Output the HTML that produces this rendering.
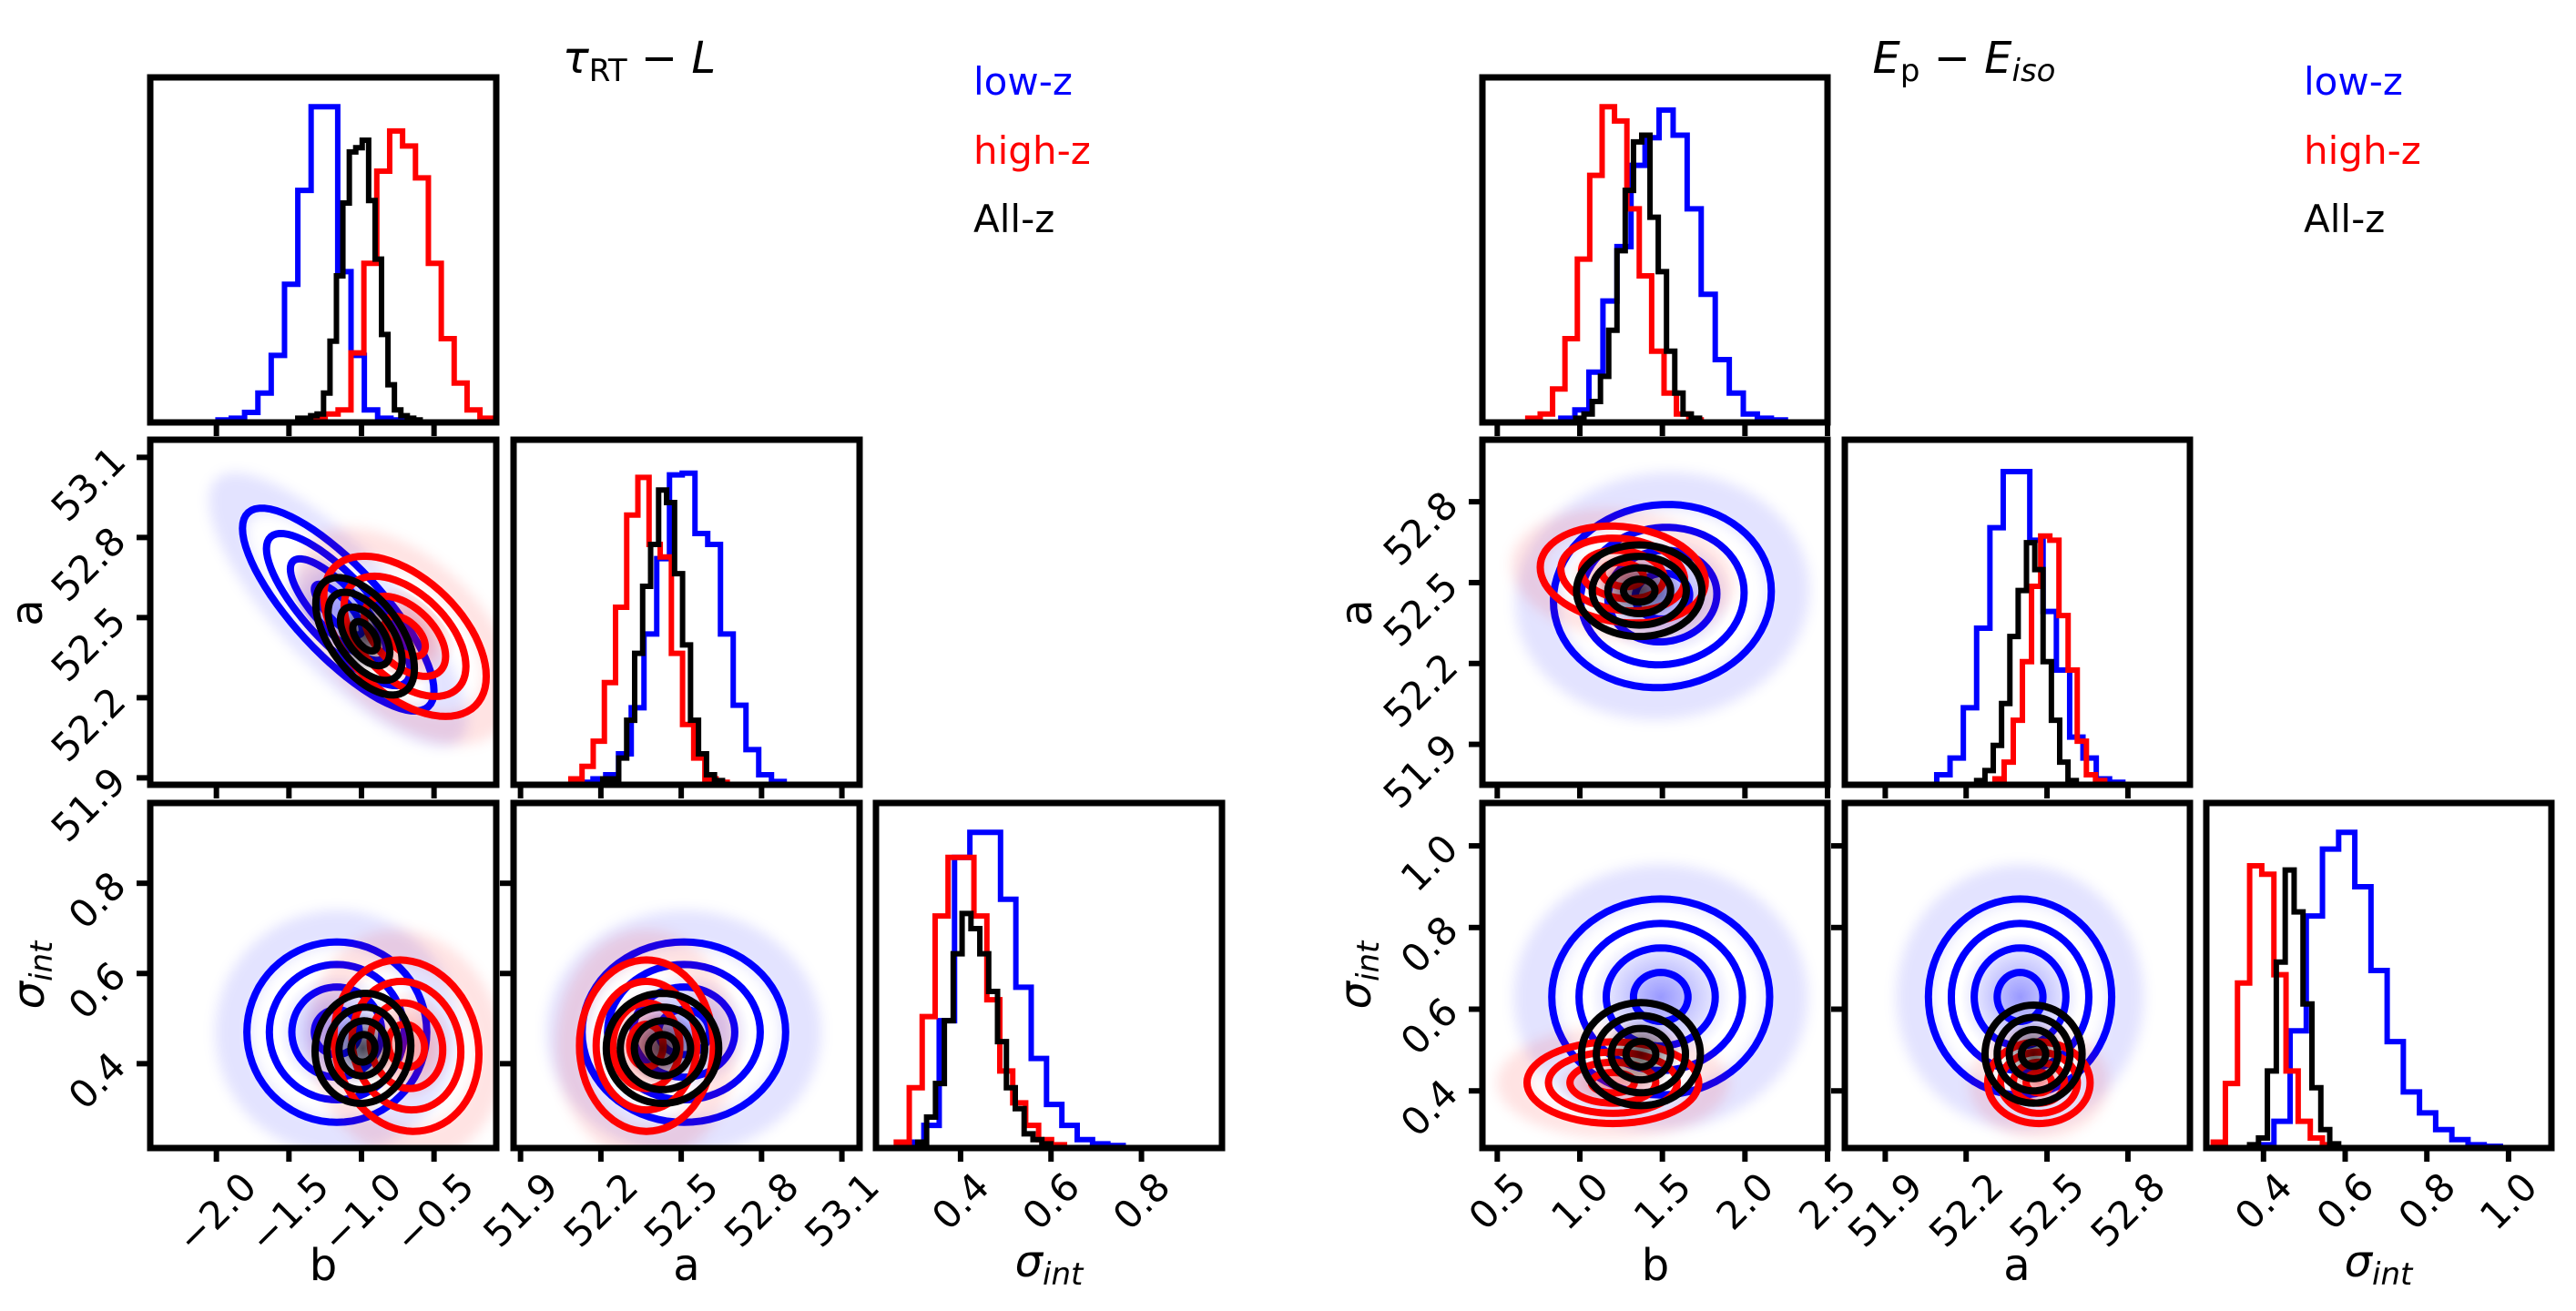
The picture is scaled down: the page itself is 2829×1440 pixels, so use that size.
<!DOCTYPE html>
<html><head><meta charset="utf-8"><title>Corner plots</title>
<style>
html,body{margin:0;padding:0;background:#fff;}
svg{display:block;font-family:"DejaVu Sans","Liberation Sans",sans-serif;}
.tlab{font-size:42px;}
.tick{stroke:#000;stroke-width:6px;}
.frm{fill:none;stroke:#000;stroke-width:7px;}
.hst{fill:none;stroke-width:6px;}
.ctr{fill:none;stroke-width:8px;stroke-linejoin:round;}
.cld{fill-rule:evenodd;}
.axl{font-size:48px;}
</style></head>
<body>
<svg id="fig" xmlns="http://www.w3.org/2000/svg" width="2829" height="1440" viewBox="0 0 2829 1440">
<defs>
<filter id="blur" x="-50%" y="-50%" width="200%" height="200%"><feGaussianBlur stdDeviation="7"/></filter>
<radialGradient id="gBlue"><stop offset="0" stop-color="#0000ff" stop-opacity="0.4"/><stop offset="1" stop-color="#0000ff" stop-opacity="0"/></radialGradient>
<radialGradient id="gRed"><stop offset="0" stop-color="#ff0000" stop-opacity="0.4"/><stop offset="1" stop-color="#ff0000" stop-opacity="0"/></radialGradient>
<radialGradient id="gBlack"><stop offset="0" stop-color="#000" stop-opacity="0.65"/><stop offset="1" stop-color="#000" stop-opacity="0"/></radialGradient>
</defs>
<g id="root"></g>

<text x="702" y="80" text-anchor="middle" style="font-size:48px"><tspan font-style="italic">τ</tspan><tspan style="font-size:34px" dy="9">RT</tspan><tspan dy="-9"> − </tspan><tspan font-style="italic">L</tspan></text>
<text x="2157" y="80" text-anchor="middle" style="font-size:48px"><tspan font-style="italic">E</tspan><tspan style="font-size:34px" dy="9">p</tspan><tspan dy="-9"> − </tspan><tspan font-style="italic">E</tspan><tspan style="font-size:34px" dy="9" font-style="italic">iso</tspan></text>

<text x="1069" y="104" style="font-size:42px" fill="#0000ff">low-z</text>
<text x="1069" y="180" style="font-size:42px" fill="#ff0000">high-z</text>
<text x="1069" y="255" style="font-size:42px" fill="#000">All-z</text>
<text x="2530" y="104" style="font-size:42px" fill="#0000ff">low-z</text>
<text x="2530" y="180" style="font-size:42px" fill="#ff0000">high-z</text>
<text x="2530" y="255" style="font-size:42px" fill="#000">All-z</text>

<text class="axl" x="355" y="1406" text-anchor="middle">b</text>
<text class="axl" x="754" y="1406" text-anchor="middle">a</text>
<text class="axl" x="1152" y="1402" text-anchor="middle"><tspan font-style="italic">σ</tspan><tspan font-style="italic" style="font-size:34px" dy="9">int</tspan></text>
<text class="axl" x="1818" y="1406" text-anchor="middle">b</text>
<text class="axl" x="2215" y="1406" text-anchor="middle">a</text>
<text class="axl" x="2612" y="1402" text-anchor="middle"><tspan font-style="italic">σ</tspan><tspan font-style="italic" style="font-size:34px" dy="9">int</tspan></text>

<text class="axl" transform="translate(46,673) rotate(-90)" text-anchor="middle">a</text>
<text class="axl" transform="translate(48,1071) rotate(-90)" text-anchor="middle"><tspan font-style="italic">σ</tspan><tspan font-style="italic" style="font-size:34px" dy="9">int</tspan></text>
<text class="axl" transform="translate(1506,673) rotate(-90)" text-anchor="middle">a</text>
<text class="axl" transform="translate(1505,1071) rotate(-90)" text-anchor="middle"><tspan font-style="italic">σ</tspan><tspan font-style="italic" style="font-size:34px" dy="9">int</tspan></text>
</svg>

<script>
// ---------- data: series order [low-z (blue), high-z (red), All-z (black)] ----------
const seriesNames = ["low-z", "high-z", "all-z"];
const seriesColors = ["#0000ff", "#ff0000", "#000000"];

// Left group (tau_RT - L) 1D histograms
const L_b_start = [-1.989, -1.339, -1.439];
const L_b_width = [0.0917, 0.0889, 0.0444];
const L_b_blue = [3,5,12,35,80,165,277,377,377,180,80,15,5,3];
const L_b_red = [5,10,15,83,190,300,348,330,292,190,100,47,15,5];
const L_b_black = [5,5,8,10,35,97,175,262,323,328,337,265,195,105,45,15,8,5,3];

const L_a_start = [52.123, 52.088, 52.207];
const L_a_width = [0.0476, 0.0417, 0.0298];
const L_a_blue = [3,7,12,37,92,180,270,370,372,300,287,180,95,42,12,4];
const L_a_red = [7,22,52,122,212,322,367,287,272,157,72,32,7,3];
const L_a_black = [7,7,32,77,157,237,287,352,337,252,167,77,37,12,5];

const L_s_start = [0.285, 0.258, 0.3054];
const L_s_width = [0.0339, 0.0286, 0.0196];
const L_s_blue = [7,27,152,347,377,377,297,192,107,52,27,10,5,3];
const L_s_red = [7,72,157,277,347,347,277,177,92,54,27,10,4];
const L_s_black = [7,37,77,152,232,280,262,232,187,127,72,47,17,10,5];

// Right group (Ep - Eiso) 1D histograms
const R_b_start = [0.885, 0.685, 0.975];
const R_b_width = [0.085, 0.075, 0.05];
const R_b_blue = [5,15,60,145,210,307,340,373,343,255,153,75,35,10,5,3];
const R_b_red = [5,10,40,100,195,295,377,360,255,175,85,35,10,3];
const R_b_black = [5,10,25,55,110,205,277,335,343,245,180,85,35,10,5];

const R_a_start = [52.091, 52.307, 52.239];
const R_a_width = [0.0493, 0.0339, 0.0308];
const R_a_blue = [12,32,92,187,307,374,374,292,207,137,57,32,7,3];
const R_a_red = [7,27,77,147,237,297,292,202,137,52,12,5];
const R_a_black = [5,17,47,97,177,232,289,257,147,77,27,5];

const R_s_start = [0.386, 0.277, 0.366];
const R_s_width = [0.0396, 0.0297, 0.0218];
const R_s_blue = [4,32,140,277,357,377,312,212,127,67,42,22,10,4,2];
const R_s_red = [7,77,197,337,327,207,92,32,12,4];
const R_s_black = [4,12,92,222,332,282,172,72,22,5];

// 2D posteriors: Gaussian summaries per series
const L_ba_cx = [-1.16, -0.70, -0.975];
const L_ba_cy = [52.53, 52.43, 52.43];
const L_ba_sx = [0.33, 0.28, 0.17];
const L_ba_sy = [0.19, 0.15, 0.11];
const L_ba_rho = [-0.8, -0.5, -0.55];

const L_bs_cx = [-1.17, -0.69, -0.99];
const L_bs_cy = [0.47, 0.44, 0.434];
const L_bs_sx = [0.31, 0.25, 0.165];
const L_bs_sy = [0.10, 0.095, 0.061];
const L_bs_rho = [0, -0.1, 0.05];

const L_as_cx = [52.51, 52.37, 52.43];
const L_as_cy = [0.47, 0.44, 0.434];
const L_as_sx = [0.19, 0.125, 0.105];
const L_as_sy = [0.10, 0.095, 0.061];
const L_as_rho = [0, 0, 0];

const R_ba_cx = [1.50, 1.26, 1.36];
const R_ba_cy = [52.45, 52.53, 52.47];
const R_ba_sx = [0.33, 0.25, 0.19];
const R_ba_sy = [0.17, 0.09, 0.085];
const R_ba_rho = [0.05, -0.15, 0];

const R_bs_cx = [1.49, 1.20, 1.37];
const R_bs_cy = [0.63, 0.42, 0.49];
const R_bs_sx = [0.33, 0.26, 0.18];
const R_bs_sy = [0.12, 0.05, 0.063];
const R_bs_rho = [0, 0, 0];

const R_as_cx = [52.40, 52.47, 52.45];
const R_as_cy = [0.63, 0.42, 0.49];
const R_as_sx = [0.17, 0.095, 0.09];
const R_as_sy = [0.12, 0.05, 0.06];
const R_as_rho = [0, 0, 0];

const contourLevels = [0.5, 1, 1.5, 2];

// Ticks
const L_b_ticks = [-2.0, -1.5, -1.0, -0.5];
const L_a_ticks = [51.9, 52.2, 52.5, 52.8, 53.1];
const L_s_ticks = [0.4, 0.6, 0.8];
const R_b_ticks = [0.5, 1.0, 1.5, 2.0, 2.5];
const R_a_ticks = [51.9, 52.2, 52.5, 52.8];
const R_s_ticks = [0.4, 0.6, 0.8, 1.0];

// Axis ranges
const L_b_range = [-2.456, -0.071];
const L_a_range = [51.874, 53.166];
const L_s_range = [0.213, 0.978];
const R_b_range = [0.41, 2.5];
const R_a_range = [51.75, 53.03];
const R_s_range = [0.26, 1.105];
const histMax = 412;

// ---------- drawing ----------
const NS = "http://www.w3.org/2000/svg";
const root = document.getElementById("root");
const FS = 42;
let clipId = 0;
function scale(d0, d1, p0, p1) { return v => p0 + (v - d0) / (d1 - d0) * (p1 - p0); }
function mk(tag, parent) { const e = document.createElementNS(NS, tag); parent.appendChild(e); return e; }
function fmt(v) { return v.toFixed(1).replace("-", "\u2212"); }
function textW(s) {
  let w = 0;
  for (const c of s) w += (c === "." ? 0.318 : c === "\u2212" ? 0.838 : 0.636);
  return w * FS;
}

function makePanel(gx, gy, w, h, name) {
  const g = mk("g", root);
  
  
  const cp = mk("clipPath", g);
  const id = "cp" + (clipId++);
  cp.setAttribute("id", id);
  const r = mk("rect", cp);
  r.setAttribute("x", gx); r.setAttribute("y", gy); r.setAttribute("width", w); r.setAttribute("height", h);
  const content = mk("g", g);
  content.setAttribute("clip-path", "url(#" + id + ")");
  
  
  return { g, content, x: gx, y: gy, w, h };
}
function frame(p) {
  const r = mk("rect", p.g);
  
  
  r.setAttribute("x", p.x); r.setAttribute("y", p.y); r.setAttribute("width", p.w); r.setAttribute("height", p.h);
  r.setAttribute("class", "frm");
}

function drawHist(p, xs, ys, start, width, h, color, name) {
  let d = "M" + xs(start) + "," + ys(0);
  for (let i = 0; i < h.length; i++) {
    const x0 = start + i * width, x1 = x0 + width;
    d += " L" + xs(x0) + "," + ys(h[i]) + " L" + xs(x1) + "," + ys(h[i]);
  }
  d += " L" + xs(start + h.length * width) + "," + ys(0);
  const path = mk("path", p.content);
  
  
  path.setAttribute("d", d);
  path.setAttribute("class", "hst");
  path.setAttribute("stroke", color);
}

function ell(xs, ys, cx, cy, sx, sy, rho, k, rev) {
  const pts = [];
  const q = Math.sqrt(1 - rho * rho);
  for (let i = 0; i < 72; i++) {
    const t = (rev ? -1 : 1) * i / 72 * 2 * Math.PI;
    const x = cx + k * sx * Math.cos(t);
    const y = cy + k * sy * (rho * Math.cos(t) + q * Math.sin(t));
    pts.push(xs(x).toFixed(1) + "," + ys(y).toFixed(1));
  }
  return "M" + pts.join(" L") + " Z";
}

function draw2D(p, xs, ys, CX, CY, SX, SY, RHO, panelName) {
  const grads = ["url(#gBlue)", "url(#gRed)", "url(#gBlack)"];
  for (let i = 0; i < 3; i++) {
    const col = seriesColors[i];
    const cloud = mk("path", p.content);
    
    
    cloud.setAttribute("d", ell(xs, ys, CX[i], CY[i], SX[i], SY[i], RHO[i], 2.7, false) + " " + ell(xs, ys, CX[i], CY[i], SX[i], SY[i], RHO[i], 1.9, true));
    cloud.setAttribute("class", "cld");
    cloud.setAttribute("fill", col);
    cloud.setAttribute("fill-opacity", i === 2 ? "0" : "0.11");
    cloud.setAttribute("filter", "url(#blur)");
    const dens = mk("path", p.content);
    
    
    dens.setAttribute("d", ell(xs, ys, CX[i], CY[i], SX[i], SY[i], RHO[i], 1.3, false));
    dens.setAttribute("fill", grads[i]);
    for (const k of contourLevels) {
      const c = mk("path", p.content);
      
      
      c.setAttribute("d", ell(xs, ys, CX[i], CY[i], SX[i], SY[i], RHO[i], k, false));
      c.setAttribute("class", "ctr");
      c.setAttribute("stroke", col);
    }
  }
}

function xTicks(p, xs, ticks, range, labels, name) {
  const yb = p.y + p.h;
  for (const t of ticks) {
    if (t < range[0] - 1e-9 || t > range[1] + 1e-9) continue;
    const x = xs(t);
    const l = mk("line", p.g);
    
    
    l.setAttribute("x1", x); l.setAttribute("x2", x); l.setAttribute("y1", yb); l.setAttribute("y2", yb + 15);
    l.setAttribute("class", "tick");
    if (labels) {
      const s = fmt(t);
      const w = textW(s), hh = 0.73 * FS;
      const side = (w + hh) * 0.707;
      const cy = yb + 24 + side / 2;
      const tx = mk("text", p.g);
      
      
      tx.setAttribute("class", "tlab");
      tx.setAttribute("text-anchor", "middle");
      tx.setAttribute("dominant-baseline", "central");
      tx.setAttribute("transform", "translate(" + x + "," + cy + ") rotate(-45)");
      tx.textContent = s;
    }
  }
}
function yTicks(p, ys, ticks, range, labels, name) {
  const xl = p.x;
  for (const t of ticks) {
    if (t < range[0] - 1e-9 || t > range[1] + 1e-9) continue;
    const y = ys(t);
    const l = mk("line", p.g);
    
    
    l.setAttribute("x1", xl - 15); l.setAttribute("x2", xl); l.setAttribute("y1", y); l.setAttribute("y2", y);
    l.setAttribute("class", "tick");
    if (labels) {
      const s = fmt(t);
      const w = textW(s), hh = 0.73 * FS;
      const side = (w + hh) * 0.707;
      const cx = xl - 24 - side / 2;
      const cy = y + 0.4 * w - 8;
      const tx = mk("text", p.g);
      
      
      tx.setAttribute("class", "tlab");
      tx.setAttribute("text-anchor", "middle");
      tx.setAttribute("dominant-baseline", "central");
      tx.setAttribute("transform", "translate(" + cx + "," + cy + ") rotate(-45)");
      tx.textContent = s;
    }
  }
}

function buildGroup(G) {
  const cols = G.cols, rows = G.rows, W = G.w, H = G.h;
  const xsB = scale(G.bR[0], G.bR[1], cols[0], cols[0] + W);
  const xsA = scale(G.aR[0], G.aR[1], cols[1], cols[1] + W);
  const xsS = scale(G.sR[0], G.sR[1], cols[2], cols[2] + W);
  const ysA = scale(G.aR[0], G.aR[1], rows[1] + H, rows[1]);
  const ysS = scale(G.sR[0], G.sR[1], rows[2] + H, rows[2]);
  const pre = G.name;

  let p = makePanel(cols[0], rows[0], W, H, pre + "-hist-b");
  let ysH = scale(0, histMax, rows[0] + H, rows[0]);
  for (let i = 0; i < 3; i++) drawHist(p, xsB, ysH, G.bStart[i], G.bWidth[i], G.bH[i], seriesColors[i], pre + "-hist-b-" + seriesNames[i]);
  frame(p); xTicks(p, xsB, G.bT, G.bR, false, pre + "-b-axis");

  p = makePanel(cols[0], rows[1], W, H, pre + "-scatter-b-a");
  draw2D(p, xsB, ysA, G.ba[0], G.ba[1], G.ba[2], G.ba[3], G.ba[4], pre + "-b-a");
  frame(p); xTicks(p, xsB, G.bT, G.bR, false, pre + "-b-axis"); yTicks(p, ysA, G.aT, G.aR, true, pre + "-a-axis");

  p = makePanel(cols[1], rows[1], W, H, pre + "-hist-a");
  ysH = scale(0, histMax, rows[1] + H, rows[1]);
  for (let i = 0; i < 3; i++) drawHist(p, xsA, ysH, G.aStart[i], G.aWidth[i], G.aH[i], seriesColors[i], pre + "-hist-a-" + seriesNames[i]);
  frame(p); xTicks(p, xsA, G.aT, G.aR, false, pre + "-a-axis");

  p = makePanel(cols[0], rows[2], W, H, pre + "-scatter-b-sigma");
  draw2D(p, xsB, ysS, G.bs[0], G.bs[1], G.bs[2], G.bs[3], G.bs[4], pre + "-b-sigma");
  frame(p); xTicks(p, xsB, G.bT, G.bR, true, pre + "-b-axis"); yTicks(p, ysS, G.sT, G.sR, true, pre + "-sigma-axis");

  p = makePanel(cols[1], rows[2], W, H, pre + "-scatter-a-sigma");
  draw2D(p, xsA, ysS, G.as[0], G.as[1], G.as[2], G.as[3], G.as[4], pre + "-a-sigma");
  frame(p); xTicks(p, xsA, G.aT, G.aR, true, pre + "-a-axis"); yTicks(p, ysS, G.sT, G.sR, false, pre + "-sigma-axis");

  p = makePanel(cols[2], rows[2], W, H, pre + "-hist-sigma");
  ysH = scale(0, histMax, rows[2] + H, rows[2]);
  for (let i = 0; i < 3; i++) drawHist(p, xsS, ysH, G.sStart[i], G.sWidth[i], G.sH[i], seriesColors[i], pre + "-hist-sigma-" + seriesNames[i]);
  frame(p); xTicks(p, xsS, G.sT, G.sR, true, pre + "-sigma-axis");
}

buildGroup({
  name: "left", cols: [165, 564, 962], rows: [85, 483, 882], w: 380, h: 379,
  bR: L_b_range, aR: L_a_range, sR: L_s_range, bT: L_b_ticks, aT: L_a_ticks, sT: L_s_ticks,
  bStart: L_b_start, bWidth: L_b_width, bH: [L_b_blue, L_b_red, L_b_black],
  aStart: L_a_start, aWidth: L_a_width, aH: [L_a_blue, L_a_red, L_a_black],
  sStart: L_s_start, sWidth: L_s_width, sH: [L_s_blue, L_s_red, L_s_black],
  ba: [L_ba_cx, L_ba_cy, L_ba_sx, L_ba_sy, L_ba_rho],
  bs: [L_bs_cx, L_bs_cy, L_bs_sx, L_bs_sy, L_bs_rho],
  as: [L_as_cx, L_as_cy, L_as_sx, L_as_sy, L_as_rho]
});
buildGroup({
  name: "right", cols: [1628, 2026, 2423], rows: [85, 483, 882], w: 379, h: 379,
  bR: R_b_range, aR: R_a_range, sR: R_s_range, bT: R_b_ticks, aT: R_a_ticks, sT: R_s_ticks,
  bStart: R_b_start, bWidth: R_b_width, bH: [R_b_blue, R_b_red, R_b_black],
  aStart: R_a_start, aWidth: R_a_width, aH: [R_a_blue, R_a_red, R_a_black],
  sStart: R_s_start, sWidth: R_s_width, sH: [R_s_blue, R_s_red, R_s_black],
  ba: [R_ba_cx, R_ba_cy, R_ba_sx, R_ba_sy, R_ba_rho],
  bs: [R_bs_cx, R_bs_cy, R_bs_sx, R_bs_sy, R_bs_rho],
  as: [R_as_cx, R_as_cy, R_as_sx, R_as_sy, R_as_rho]
});
</script>
</body></html>
